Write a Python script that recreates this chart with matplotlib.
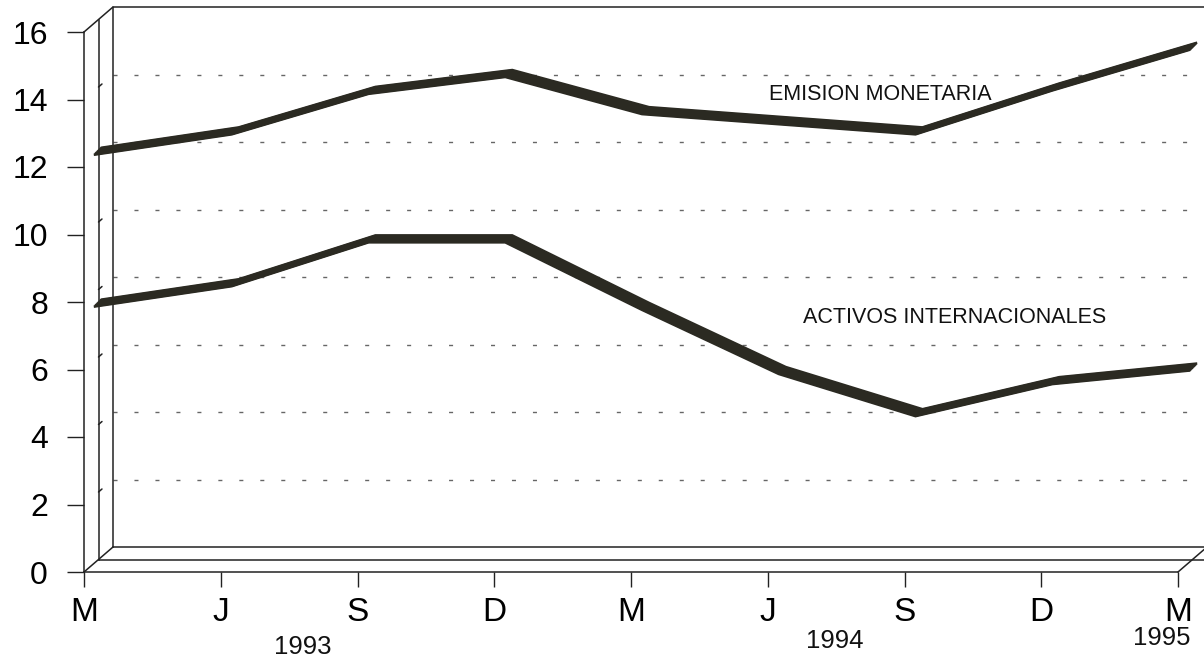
import matplotlib
matplotlib.use("Agg")
import matplotlib.pyplot as plt
import numpy as np
from matplotlib.patches import ConnectionPatch
from matplotlib.transforms import offset_copy

# quarterly points, March 1993 .. March 1995
months = ["M", "J", "S", "D", "M", "J", "S", "D", "M"]
years = ["1993", "1994", "1995"]
year_x = [1.6, 5.49, 7.88]
year_y = [-2.22, -2.05, -1.96]
emision = [12.1, 12.7, 13.9, 14.4, 13.3, 13.0, 12.7, 14.0, 15.2]
activos = [7.6, 8.2, 9.5, 9.5, 7.5, 5.6, 4.35, 5.3, 5.7]
y_ticks = [0, 2, 4, 6, 8, 10, 12, 14, 16]

plt.rcParams["font.family"] = ["Liberation Sans", "DejaVu Sans"]

DPI = 100
DX, DY = 29, 25  # depth of the 3D box in pixels
INK = "#222222"
RIBBON = "#2b2a22"

fig = plt.figure(figsize=(12.04, 6.58), dpi=DPI)
ax = fig.add_axes([84 / 1204, 86 / 658, 1094 / 1204, 540 / 658])
ax.set_xlim(0, 8)
ax.set_ylim(0, 16)
x = np.arange(len(months))


def depth(frac, ex=0.0, ey=0.0):
    return offset_copy(ax.transData, fig=fig, x=DX * frac + ex, y=DY * frac + ey, units="dots")


def depth_segment(px, py, f0, f1, **kw):
    con = ConnectionPatch((px, py), (px, py), coordsA=depth(f0), coordsB=depth(f1),
                          color=INK, lw=1.1, clip_on=False, **kw)
    ax.add_artist(con)


back = depth(1.0)
mid = depth(0.5)

# back wall: dashed grid, frame
for val in y_ticks[1:-1]:
    ax.plot([0, 8], [val, val], transform=back, color="#666666", lw=1.0,
            ls=(0, (2.9, 12.2)), clip_on=False)
ax.plot([0, 0, 8.2], [0, 16, 16], transform=back, color=INK, lw=1.1, clip_on=False)
ax.plot([0, 8.2], [0, 0], transform=back, color=INK, lw=1.1, clip_on=False)

# middle plane
ax.plot([0, 0], [0, 16], transform=mid, color=INK, lw=1.1, clip_on=False)
ax.plot([0, 8.2], [0, 0], transform=mid, color=INK, lw=1.1, clip_on=False)
for val in y_ticks[1:-1]:
    depth_segment(0, val, 0.5, 0.62)

# diagonals
depth_segment(0, 0, 0, 1)
depth_segment(0, 16, 0, 1)
depth_segment(8, 0, 0, 1)

# ribbons
for series in (emision, activos):
    for k in np.linspace(-3.5, 3.5, 11):
        ax.plot(x, series, transform=depth(0.5, k, k), color=RIBBON, lw=1.8,
                solid_joinstyle="miter", clip_on=False)

ax.text(5.82, 14.15, "EMISION MONETARIA", ha="center", va="center", fontsize=15.5, color="#111111")
ax.text(6.37, 7.53, "ACTIVOS INTERNACIONALES", ha="center", va="center", fontsize=15.5, color="#111111")

# front axes
for side in ["top", "right"]:
    ax.spines[side].set_visible(False)
for side in ["left", "bottom"]:
    ax.spines[side].set_color(INK)
    ax.spines[side].set_linewidth(1.1)
ax.set_yticks(y_ticks)
ax.set_yticklabels([str(v) for v in y_ticks])
ax.set_xticks(x)
ax.set_xticklabels(months)
ax.tick_params(axis="y", direction="out", length=12, width=1, color=INK, pad=14, labelsize=23)
ax.tick_params(axis="x", direction="out", length=11, width=1, color=INK, pad=7, labelsize=24)

for label, px, py in zip(years, year_x, year_y):
    ax.text(px, py, label, ha="center", va="center", fontsize=18.5, color="#111111")

fig.savefig("out.png", dpi=DPI)
